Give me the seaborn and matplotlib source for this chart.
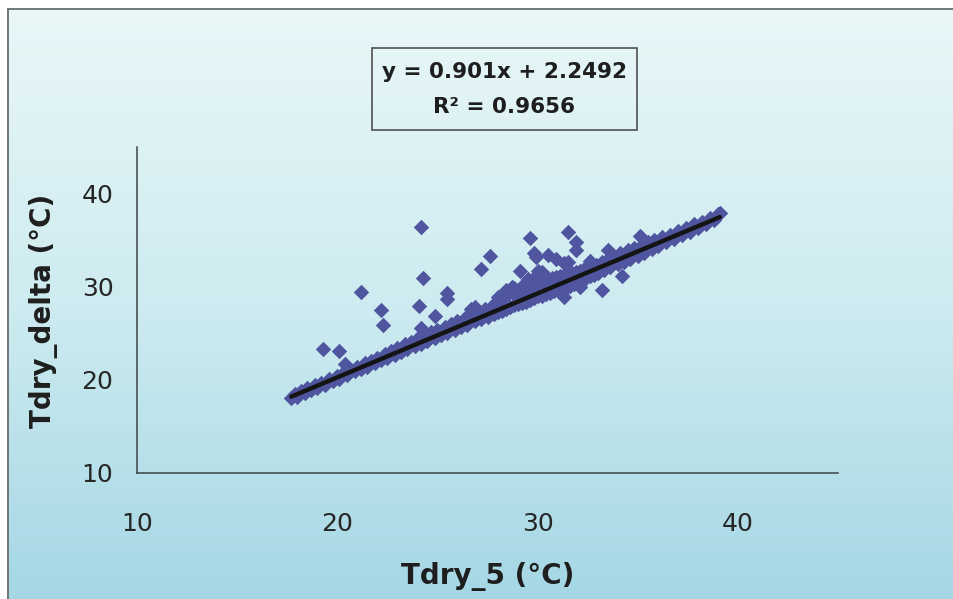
import numpy as np
import matplotlib
matplotlib.use("Agg")
import matplotlib.pyplot as plt
from matplotlib.patches import Rectangle
from matplotlib.lines import Line2D
from matplotlib.colors import LinearSegmentedColormap
import seaborn as sns

# Measured pairs: dry-bulb temperature at sensor 5 vs. delta sensor (degC)
tdry_5 = [
    17.7, 17.9, 18.0, 18.2, 18.4, 18.5, 18.7, 18.9, 19.0, 19.2, 19.4, 19.6, 19.8, 20.0, 20.1, 20.3, 20.5, 20.7, 20.9, 21.0,
    21.2, 21.4, 21.5, 21.7, 21.9, 22.0, 22.2, 22.4, 22.5, 22.7, 22.9, 23.0, 23.2, 23.4, 23.5, 23.7, 23.9, 24.0, 24.2, 24.4,
    24.5, 24.7, 24.9, 25.0, 25.2, 25.4, 25.5, 25.7, 25.9, 26.0, 26.2, 26.4, 26.5, 26.7, 26.9, 27.0, 27.2, 27.4, 27.5, 27.7,
    27.8, 27.9, 28.0, 28.1, 28.2, 28.3, 28.4, 28.5, 28.6, 28.7, 28.8, 28.9, 29.0, 29.1, 29.2, 29.3, 29.4, 29.5, 29.6, 29.7,
    29.8, 29.9, 30.0, 30.1, 30.2, 30.3, 30.4, 30.5, 30.6, 30.7, 30.8, 30.9, 31.0, 31.1, 31.2, 31.3, 31.4, 31.5, 31.6, 31.7,
    31.8, 31.9, 32.0, 32.1, 32.2, 32.3, 32.4, 32.5, 32.6, 32.7, 32.8, 32.9, 33.0, 33.2, 33.3, 33.5, 33.6, 33.8, 34.0, 34.1,
    34.3, 34.5, 34.6, 34.8, 35.0, 35.2, 35.3, 35.5, 35.7, 35.8, 36.0, 36.2, 36.4, 36.6, 36.8, 37.0, 37.2, 37.4, 37.6, 37.8,
    38.0, 38.2, 38.4, 38.6, 38.8, 39.0, 39.1,
    19.3, 20.1, 20.4, 21.2, 22.2, 22.3, 24.2, 24.3, 24.1, 24.9, 24.2, 25.5, 25.5, 26.8, 26.7, 26.9, 27.2, 27.6, 28.3, 28.7,
    29.1, 29.6, 29.1, 29.8, 29.9, 30.0, 30.5, 30.9, 31.3, 31.5, 31.9, 31.9, 31.5, 32.6, 33.5, 35.1, 34.2, 33.2, 32.1, 31.3,
    30.6, 28.0, 28.4, 28.8, 29.3, 29.5, 29.9, 30.2,
]
tdry_delta = [
    18.0, 18.5, 18.2, 18.8, 18.6, 19.1, 18.9, 19.4, 19.1, 19.7, 19.5, 20.1, 19.9, 20.4, 20.1, 20.7, 20.5, 21.1, 20.9, 21.4,
    21.2, 21.8, 21.4, 22.0, 21.8, 22.4, 22.1, 22.8, 22.3, 23.1, 22.7, 23.4, 23.0, 23.8, 23.3, 24.1, 23.6, 24.4, 23.9, 24.8,
    24.2, 25.1, 24.5, 25.4, 24.8, 25.7, 25.0, 26.0, 25.4, 26.3, 25.7, 26.6, 25.9, 26.9, 26.3, 27.2, 26.5, 27.6, 26.8, 27.9,
    27.1, 28.2, 27.3, 28.5, 27.4, 28.9, 27.6, 29.2, 27.8, 29.4, 28.0, 29.1, 28.1, 29.3, 28.3, 29.6, 28.4, 29.8, 28.6, 30.1,
    28.8, 30.2, 29.0, 30.5, 29.0, 30.4, 29.2, 30.8, 29.3, 30.9, 29.5, 31.0, 29.6, 31.2, 29.8, 31.3, 29.9, 31.4, 30.1, 31.5,
    30.3, 31.6, 30.5, 31.7, 30.7, 31.9, 30.9, 32.0, 31.1, 32.1, 31.3, 32.3, 31.5, 32.7, 31.8, 33.0, 32.1, 33.3, 32.4, 33.6,
    32.7, 33.9, 33.0, 34.2, 33.3, 34.5, 33.6, 34.8, 34.0, 35.0, 34.4, 35.3, 34.8, 35.6, 35.1, 36.0, 35.5, 36.3, 35.9, 36.7,
    36.3, 37.0, 36.7, 37.4, 37.2, 37.8, 37.9,
    23.3, 23.1, 21.7, 29.4, 27.5, 25.9, 36.4, 30.9, 27.9, 26.9, 25.6, 29.3, 28.7, 27.5, 27.6, 27.8, 31.9, 33.3, 29.3, 30.0,
    29.6, 35.2, 31.7, 33.6, 33.2, 31.7, 33.4, 33.0, 32.5, 35.9, 34.8, 33.9, 32.7, 32.8, 33.9, 35.4, 31.2, 29.7, 30.0, 28.9,
    30.3, 28.9, 29.6, 29.9, 30.3, 30.8, 31.2, 31.6,
]

# Linear trend fitted to the pairs
slope = 0.901
intercept = 2.2492
r_squared = 0.9656

x_ticks = [10, 20, 30, 40]
y_ticks = [10, 20, 30, 40]

sns.set_theme(style="white")
plt.rcParams["font.family"] = ["DejaVu Sans"]

W, H = 954, 599
fig = plt.figure(figsize=(W / 100, H / 100), dpi=100)
fig.patch.set_facecolor("white")
fig.patch.set_linewidth(0)

# Panel background: pale cyan fading to a deeper cyan toward the bottom;
# the panel runs off the right and bottom edges of the figure
top_frac = 1 - 9 / H
bg = fig.add_axes([8 / W, -0.02, 1.05, top_frac + 0.02], zorder=0)
cmap = LinearSegmentedColormap.from_list(
    "panel", ["#e9f7f8", "#cdebf0", "#a3d6e4"])
grad = np.linspace(0, 1, 256).reshape(-1, 1)
bg.imshow(grad, cmap=cmap, aspect="auto", extent=[0, 1, 0, 1], origin="upper",
          interpolation="bilinear")
bg.set_xlim(0, 1)
bg.set_ylim(0, 1)
bg.set_axis_off()

# Panel frame: top and left edges only
fig.lines.append(Line2D([8 / W, 1.02], [top_frac, top_frac], transform=fig.transFigure,
                        color="#6e7678", lw=1.4, zorder=1))
fig.lines.append(Line2D([8 / W, 8 / W], [-0.02, top_frac], transform=fig.transFigure,
                        color="#6e7678", lw=1.4, zorder=1))

ax = fig.add_axes([137 / W, 1 - 473 / H, (838 - 137) / W, (473 - 147) / H], zorder=2)
ax.patch.set_alpha(0)

sns.scatterplot(x=tdry_5, y=tdry_delta, marker="D", s=62, color="#4f559f",
                linewidth=0, ax=ax, zorder=3)

x_min, x_max = min(tdry_5), max(tdry_5)
ax.plot([x_min, x_max], [slope * x_min + intercept, slope * x_max + intercept],
        color="#141414", lw=3.2, solid_capstyle="round", zorder=4)

ax.set_xlim(10, 45)
ax.set_ylim(10, 45)
ax.set_xticks(x_ticks)
ax.set_yticks(y_ticks)
ax.set_xticklabels([str(t) for t in x_ticks], fontsize=18, color="#262626")
ax.set_yticklabels([str(t) for t in y_ticks], fontsize=18, color="#262626")
ax.tick_params(axis="x", direction="out", length=7, width=1, color="#404040", pad=21)
ax.tick_params(axis="y", direction="out", length=6, width=1, color="#404040", pad=11)
for side in ("right", "top"):
    ax.spines[side].set_visible(False)
for side in ("left", "bottom"):
    ax.spines[side].set_color("#3c4446")
    ax.spines[side].set_linewidth(1.1)

ax.set_xlabel("Tdry_5 (°C)", fontsize=20, fontweight="bold", color="#1e1e1e", va="center")
ax.xaxis.set_label_coords(0.5, -0.319)
ax.set_ylabel("Tdry_delta (°C)", fontsize=20, fontweight="bold", color="#1e1e1e", va="center")
ax.yaxis.set_label_coords(-0.133, 0.497)

# Trendline equation box
fig.patches.append(Rectangle((372 / W, 1 - 130 / H), (637 - 372) / W, (130 - 48) / H,
                             transform=fig.transFigure, fill=False,
                             edgecolor="#505050", linewidth=1.2, zorder=5))
fig.text(504.5 / W, 1 - 72 / H, f"y = {slope}x + {intercept}", ha="center", va="center",
         fontsize=15.5, fontweight="bold", color="#1e1e1e", zorder=6)
fig.text(504.5 / W, 1 - 107 / H, f"R² = {r_squared}", ha="center", va="center",
         fontsize=15.5, fontweight="bold", color="#1e1e1e", zorder=6)

fig.savefig("out.png", dpi=100, facecolor=fig.get_facecolor())
